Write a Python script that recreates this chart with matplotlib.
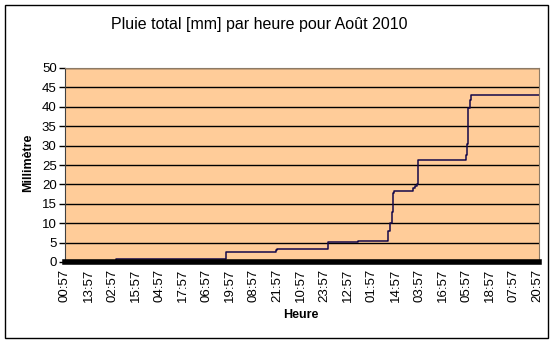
import matplotlib.pyplot as plt
from matplotlib.patches import Rectangle

# Cumulative rain, hourly index over August 2010 (744 hours), breakpoints
idx = [0, 80, 252, 330, 332, 412, 460, 505, 507, 509, 512, 514, 515,
       542, 545, 549, 551, 553, 554, 627, 628, 630, 632, 635, 637, 743]
pluie = [0.0, 0.8, 2.5, 3.0, 3.4, 5.2, 5.4, 5.5, 8.0, 10.0, 13.0, 17.8, 18.2,
         18.2, 19.0, 19.6, 20.2, 22.0, 26.4, 26.4, 27.5, 30.5, 39.6, 41.8, 43.0, 43.0]

tick_labels = ["00:57", "13:57", "02:57", "15:57", "04:57", "17:57", "06:57",
               "19:57", "08:57", "21:57", "10:57", "23:57", "12:57", "01:57",
               "14:57", "03:57", "16:57", "05:57", "18:57", "07:57", "20:57"]
tick_step = 37
n_hours = 744

plt.rcParams['font.family'] = ['Liberation Sans', 'DejaVu Sans']

fig = plt.figure(figsize=(5.56, 3.45), dpi=100)
fig.patches.append(Rectangle((5 / 556, 1 - 338 / 345), 543 / 556, 333 / 345,
                             transform=fig.transFigure, fill=False,
                             edgecolor='black', linewidth=1))

ax = fig.add_axes([65 / 556, 1 - 262 / 345, 474 / 556, 194 / 345])
ax.set_facecolor('#FFCC99')

ax.plot(idx, pluie, drawstyle='steps-post', color='#14084a', linewidth=1.1)

ax.set_xlim(0, n_hours - 1)
ax.set_ylim(0, 50)
ax.set_yticks(range(0, 51, 5))
ax.yaxis.grid(True, color='black', linewidth=1)
ax.set_axisbelow(True)

ax.set_xticks([i * tick_step for i in range(len(tick_labels))])
ax.set_xticklabels(tick_labels, rotation=90, fontsize=9.5)
ax.tick_params(axis='x', length=0, pad=5)
ax.tick_params(axis='y', length=4, width=1, labelsize=9.5, pad=2)

for s in ['top', 'right']:
    ax.spines[s].set_color('#8c7a66')
ax.spines['left'].set_color('#404040')
ax.spines['bottom'].set_color('black')
ax.spines['bottom'].set_linewidth(4)

fig.text(259 / 556, 1 - 25 / 345, 'Pluie total [mm] par heure pour Août 2010',
         ha='center', va='center', fontsize=11.5)
fig.text(28 / 556, 1 - 163 / 345, 'Millimètre', rotation=90,
         ha='center', va='center', fontsize=9, fontweight='bold')
fig.text(301 / 556, 1 - 315 / 345, 'Heure',
         ha='center', va='center', fontsize=9, fontweight='bold')

fig.savefig('out.png', dpi=100)
